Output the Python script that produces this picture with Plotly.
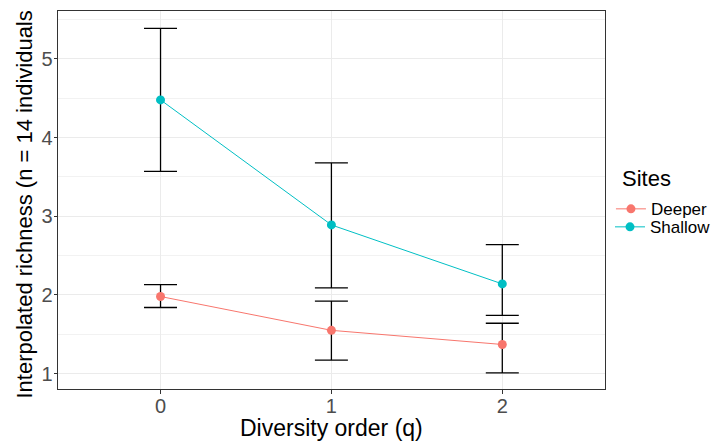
import plotly.graph_objects as go

# Data
orders = [0, 1, 2]
sites = ["Deeper", "Shallow"]
deeper_est = [1.98, 1.55, 1.37]
deeper_lo = [1.84, 1.17, 1.01]
deeper_hi = [2.13, 1.92, 1.64]
shallow_est = [4.48, 2.89, 2.14]
shallow_lo = [3.57, 2.09, 1.74]
shallow_hi = [5.39, 3.68, 2.64]
colors = {"Deeper": "#F8766D", "Shallow": "#00BFC4"}

series = {
    "Deeper": (deeper_est, deeper_lo, deeper_hi),
    "Shallow": (shallow_est, shallow_lo, shallow_hi),
}

W, H = 716, 442
ml, mr, mt, mb = 58.3, 0, 10.7, 53.3
panel_right = 605.7
ph = H - mt - mb
paper_w = W - ml - mr
dom_right = (panel_right - ml) / paper_w


def px_x(px):
    return (px - ml) / paper_w


def px_y(py):
    return ((H - mb) - py) / ph


legend_ids = {"Deeper": "legend", "Shallow": "legend2"}
legend_y = {"Deeper": 209, "Shallow": 227}

fig = go.Figure()
for name in sites:
    est, lo, hi = series[name]
    fig.add_trace(go.Scatter(
        x=orders, y=est, name=name, mode="lines+markers",
        line=dict(color=colors[name], width=1),
        marker=dict(color=colors[name], size=9),
        legend=legend_ids[name],
        error_y=dict(type="data", symmetric=False,
                     array=[h - e for h, e in zip(hi, est)],
                     arrayminus=[e - l for e, l in zip(est, lo)],
                     color="black", thickness=1.3, width=16.5),
    ))


def leg(name):
    return dict(
        font=dict(size=17, color="black"),
        xref="paper", yref="paper",
        x=px_x(611), xanchor="left", y=px_y(legend_y[name]), yanchor="middle",
        bgcolor="rgba(0,0,0,0)", borderwidth=0,
    )


axis_common = dict(
    showgrid=True, gridcolor="#EBEBEB", gridwidth=1.1, zeroline=False,
    showline=True, mirror=True, linecolor="#333333", linewidth=1,
    ticks="outside", ticklen=3.5, tickcolor="#333333", tickwidth=1,
    tickfont=dict(size=20, color="#4D4D4D"),
)

fig.update_layout(
    width=W, height=H,
    margin=dict(l=ml, r=mr, t=mt, b=mb, pad=0),
    plot_bgcolor="white", paper_bgcolor="white",
    font=dict(family="Liberation Sans, Arial, sans-serif"),
    showlegend=True,
    legend=leg("Deeper"),
    legend2=leg("Shallow"),
    xaxis=dict(
        domain=[0, dom_right],
        range=[-0.6, 2.6], tickvals=orders, ticktext=[str(o) for o in orders],
        ticklabelstandoff=-5, **axis_common,
    ),
    yaxis=dict(
        range=[0.804, 5.61], tickvals=[1, 2, 3, 4, 5], ticklabelstandoff=-3,
        minor=dict(tickvals=[1.5, 2.5, 3.5, 4.5, 5.5], showgrid=True,
                   gridcolor="#F2F2F2", gridwidth=0.6, ticks=""),
        **axis_common,
    ),
    annotations=[
        dict(text="Diversity order (q)", xref="paper", yref="paper",
             x=px_x((ml + panel_right) / 2), y=px_y(427.5), xanchor="center", yanchor="middle",
             showarrow=False, font=dict(size=23, color="black")),
        dict(text="Interpolated richness (n = 14 individuals", xref="paper", yref="paper",
             x=px_x(24.5), y=px_y(204),
             xanchor="center", yanchor="middle", textangle=-90,
             showarrow=False, font=dict(size=22, color="black")),
        dict(text="Sites", xref="paper", yref="paper",
             x=px_x(620.5), y=px_y(178),
             xanchor="left", yanchor="middle",
             showarrow=False, font=dict(size=22, color="black")),
    ],
)

fig.write_html("out.html")
